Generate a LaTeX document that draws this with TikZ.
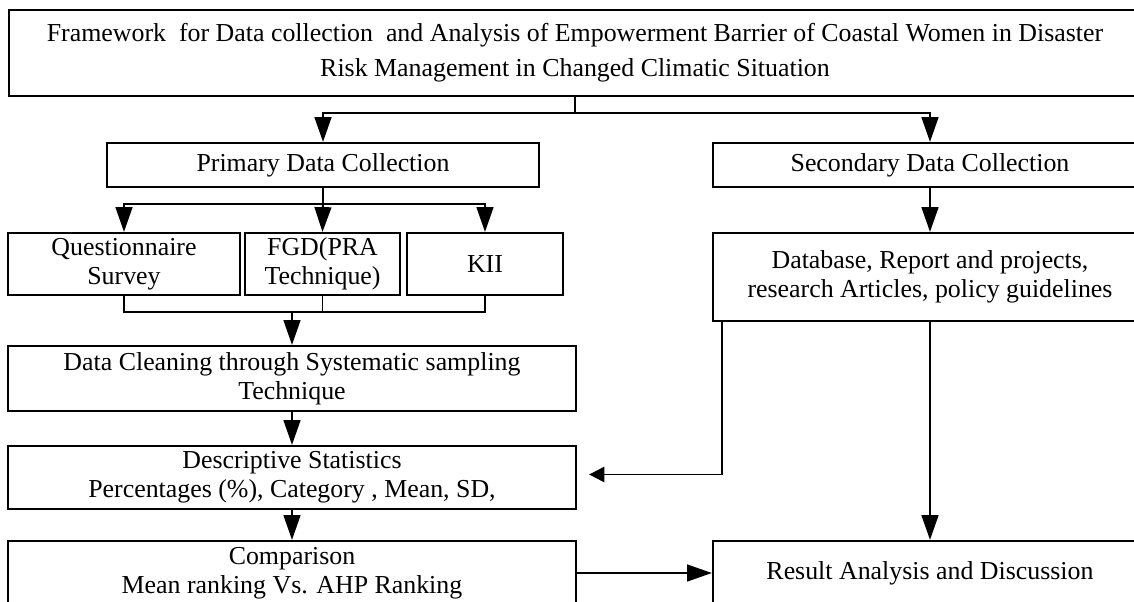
\documentclass[tikz,border=0pt]{standalone}
\usepackage{fontspec}
\setmainfont{Liberation Serif}
\usetikzlibrary{positioning, arrows.meta, calc}

\begin{document}
\begin{tikzpicture}[x=0.025cm, y=-0.025cm,
  box/.style={draw, line width=1.5pt, align=center, inner sep=0pt, font=\fontsize{18.4}{20.5}\selectfont},
  link/.style={line width=1.4pt},
  flow/.style={link, -{Triangle[length=0.62cm, width=0.42cm]}},
  back/.style={link, -{Triangle[length=0.38cm, width=0.38cm]}}
]
  \clip (0,0) rectangle (1134,601);
  % top frame
  \node[box, minimum width=28.3cm, minimum height=2.15cm, font=\fontsize{18.4}{25}\selectfont] (frame) at (575,53)
    {Framework\ \ for Data collection\ \ and Analysis of Empowerment Barrier of Coastal Women in Disaster\\Risk Management in Changed Climatic Situation};

  % two branches
  \node[box, minimum width=10.8cm, minimum height=1.1cm] (primary) at (323,165) {Primary Data Collection};
  \node[box, minimum width=10.85cm, minimum height=1.1cm] (secondary) at (930,165) {Secondary Data Collection};

  % primary tools
  \node[box, minimum width=5.8cm, minimum height=1.55cm] (quest) at (124,264) {Questionnaire\\Survey};
  \node[box, minimum width=3.875cm, minimum height=1.55cm] (fgd) at (322.5,264) {FGD(PRA\\Technique)};
  \node[box, minimum width=3.9cm, minimum height=1.55cm] (kii) at (485,264) {KII};

  % left column
  \node[box, minimum width=14.2cm, minimum height=1.625cm] (clean) at (292,378.5) {Data Cleaning through Systematic sampling\\Technique};
  \node[box, minimum width=14.2cm, minimum height=1.575cm] (desc) at (292,477.5) {Descriptive Statistics\\Percentages (\%), Category , Mean, SD,};
  \node[box, minimum width=14.2cm, minimum height=1.6cm] (comp) at (292,573) {Comparison\\Mean ranking Vs. AHP Ranking};

  % right column
  \node[box, minimum width=10.85cm, minimum height=2.2cm] (data) at (930,277) {Database, Report and projects,\\research Articles, policy guidelines};
  \node[box, minimum width=10.85cm, minimum height=1.6cm] (result) at (930,573) {Result Analysis and Discussion};

  % connectors
  \draw[link] (frame.south) -- ++(0,16) coordinate (split);
  \draw[flow] (split) -| (primary.north);
  \draw[flow] (split) -| (secondary.north);

  \draw[link] (primary.south) -- ++(0,16) coordinate (psplit);
  \draw[flow] (psplit) -| (quest.north);
  \draw[flow] (psplit) -- (fgd.north);
  \draw[flow] (psplit) -| (kii.north);

  \draw[link] (quest.south) -- ++(0,16) coordinate (merge) -| (kii.south);
  \draw[link] (fgd.south) -- (fgd.south |- merge);
  \draw[flow] (clean.north |- merge) -- (clean.north);

  \draw[flow] (clean) -- (desc);
  \draw[flow] (desc) -- (comp);
  \draw[flow] (secondary) -- (data);
  \coordinate (tap) at ($(data.south west)+(10,0)$);
  \draw[back] (tap) |- ($(desc.east)+(12,-3)$);
  \draw[flow] (data) -- (result);
  \draw[flow] (comp.east) -- (result.west);
\end{tikzpicture}
\end{document}
